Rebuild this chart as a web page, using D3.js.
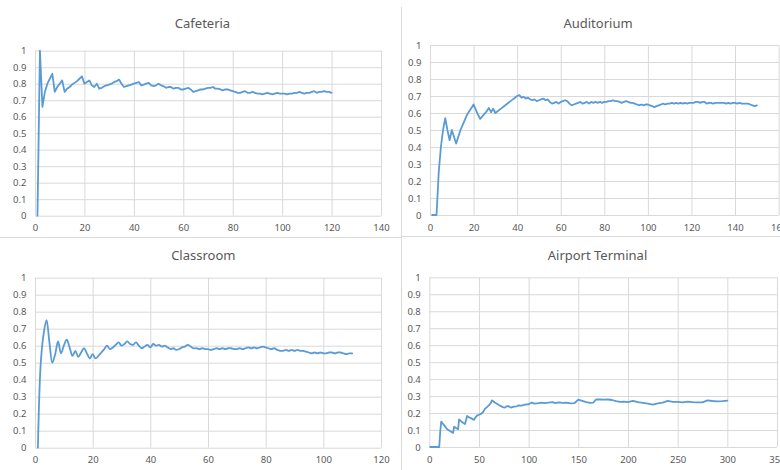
<!DOCTYPE html>
<html>
<head>
<meta charset="utf-8">
<script src="https://cdn.jsdelivr.net/npm/d3@7"></script>
<style>
  html, body { margin: 0; padding: 0; background: #fff; }
  svg { display: block; font-family: "Noto Sans", "Open Sans", sans-serif; }
</style>
</head>
<body>
<svg id="chart" width="780" height="470"></svg>
<script>
// Running ratio per location (series values; x = 1..N unless listed)
const cafeteria = [
  0, 1, 0.66, 0.75, 0.80, 0.83, 0.86, 0.75, 0.78, 0.80,
  0.82, 0.75, 0.77, 0.78, 0.795, 0.805, 0.815, 0.83, 0.845, 0.80,
  0.81, 0.82, 0.79, 0.78, 0.80, 0.77, 0.775, 0.785, 0.79, 0.795,
  0.80, 0.81, 0.815, 0.825, 0.80, 0.78, 0.785, 0.79, 0.795, 0.80,
  0.805, 0.81, 0.79, 0.795, 0.80, 0.805, 0.79, 0.785, 0.79, 0.80,
  0.79, 0.785, 0.775, 0.78, 0.78, 0.77, 0.775, 0.775, 0.765, 0.765,
  0.77, 0.775, 0.765, 0.75, 0.755, 0.76, 0.765, 0.765, 0.77, 0.775,
  0.775, 0.78, 0.77, 0.77, 0.765, 0.76, 0.765, 0.765, 0.76, 0.755,
  0.75, 0.745, 0.745, 0.75, 0.755, 0.745, 0.745, 0.75, 0.745, 0.74,
  0.74, 0.735, 0.74, 0.745, 0.74, 0.735, 0.74, 0.745, 0.74, 0.74,
  0.74, 0.735, 0.74, 0.74, 0.745, 0.745, 0.75, 0.745, 0.74, 0.745,
  0.745, 0.75, 0.755, 0.745, 0.75, 0.75, 0.755, 0.75, 0.75, 0.745
];

const auditorium = [
  0, 0, 0, 0.25, 0.40, 0.50, 0.57, 0.50, 0.44, 0.50,
  0.46, 0.42, 0.46, 0.50, 0.53, 0.56, 0.59, 0.61, 0.63, 0.65,
  0.62, 0.59, 0.565, 0.58, 0.595, 0.61, 0.63, 0.605, 0.625, 0.60,
  0.61, 0.62, 0.63, 0.64, 0.65, 0.66, 0.67, 0.68, 0.69, 0.70,
  0.705, 0.69, 0.695, 0.685, 0.69, 0.68, 0.675, 0.68, 0.67, 0.675,
  0.68, 0.685, 0.675, 0.68, 0.665, 0.655, 0.66, 0.665, 0.655, 0.665,
  0.67, 0.675, 0.67, 0.655, 0.645, 0.65, 0.655, 0.66, 0.665, 0.655,
  0.66, 0.665, 0.655, 0.665, 0.66, 0.665, 0.66, 0.665, 0.66, 0.665,
  0.665, 0.67, 0.67, 0.675, 0.67, 0.67, 0.665, 0.66, 0.665, 0.67,
  0.665, 0.66, 0.66, 0.655, 0.65, 0.645, 0.65, 0.645, 0.65, 0.65,
  0.645, 0.64, 0.635, 0.64, 0.645, 0.65, 0.655, 0.65, 0.655, 0.655,
  0.66, 0.655, 0.66, 0.655, 0.66, 0.655, 0.66, 0.655, 0.66, 0.66,
  0.66, 0.665, 0.665, 0.66, 0.665, 0.665, 0.655, 0.66, 0.66, 0.655,
  0.66, 0.66, 0.66, 0.66, 0.66, 0.655, 0.66, 0.655, 0.66, 0.66,
  0.655, 0.66, 0.655, 0.655, 0.655, 0.655, 0.65, 0.645, 0.64, 0.645
];

const classroom = [
  0, 0.50, 0.67, 0.75, 0.62, 0.50, 0.55, 0.625, 0.555, 0.60,
  0.635, 0.59, 0.54, 0.57, 0.535, 0.56, 0.585, 0.555, 0.525, 0.55,
  0.525, 0.54, 0.56, 0.58, 0.60, 0.58, 0.59, 0.605, 0.62, 0.60,
  0.61, 0.625, 0.61, 0.605, 0.62, 0.60, 0.585, 0.595, 0.605, 0.59,
  0.61, 0.60, 0.605, 0.595, 0.60, 0.59, 0.58, 0.585, 0.575, 0.58,
  0.59, 0.595, 0.605, 0.595, 0.585, 0.585, 0.58, 0.585, 0.58, 0.58,
  0.575, 0.58, 0.585, 0.58, 0.585, 0.58, 0.585, 0.585, 0.58, 0.58,
  0.585, 0.58, 0.585, 0.59, 0.585, 0.59, 0.585, 0.59, 0.595, 0.59,
  0.585, 0.58, 0.585, 0.575, 0.57, 0.57, 0.575, 0.57, 0.575, 0.57,
  0.575, 0.57, 0.57, 0.565, 0.56, 0.555, 0.56, 0.555, 0.56, 0.555,
  0.555, 0.56, 0.56, 0.555, 0.56, 0.56, 0.555, 0.55, 0.555, 0.555
];

const airportX = [
  1, 10, 11, 12, 14, 16, 18, 20, 22, 24, 25, 27, 29, 30, 32, 34, 36, 38, 40, 42,
  45, 46, 48, 50, 52, 54, 56, 58, 60, 62, 63, 66, 70, 74, 76, 78, 80, 82, 85, 88,
  90, 93, 96, 100, 103, 106, 110, 113, 116, 120, 124, 127, 130, 134, 138, 142, 146, 150, 154, 158,
  162, 165, 168, 172, 176, 180, 184, 188, 192, 196, 200, 205, 210, 215, 220, 225, 230, 235, 240, 245,
  250, 255, 260, 265, 270, 275, 280, 285, 290, 295, 300
];
const airportY = [
  0, 0, 0.09, 0.15, 0.135, 0.12, 0.105, 0.097, 0.09, 0.083, 0.12, 0.112, 0.105, 0.163, 0.152, 0.143, 0.135, 0.183, 0.175, 0.17,
  0.16, 0.17, 0.185, 0.19, 0.195, 0.205, 0.225, 0.235, 0.245, 0.26, 0.275, 0.262, 0.248, 0.235, 0.232, 0.24, 0.24, 0.232, 0.238, 0.24,
  0.245, 0.244, 0.25, 0.252, 0.262, 0.256, 0.258, 0.262, 0.258, 0.261, 0.264, 0.258, 0.263, 0.26, 0.262, 0.257, 0.258, 0.279, 0.272, 0.265,
  0.26, 0.262, 0.28, 0.281, 0.279, 0.28, 0.277, 0.27, 0.266, 0.267, 0.264, 0.272, 0.264, 0.26, 0.255, 0.25, 0.257, 0.262, 0.272, 0.266,
  0.266, 0.263, 0.267, 0.264, 0.263, 0.263, 0.275, 0.271, 0.269, 0.27, 0.273
];

const yTicks = [0, 0.1, 0.2, 0.3, 0.4, 0.5, 0.6, 0.7, 0.8, 0.9, 1];

const panels = [
  { title: "Cafeteria", xs: d3.range(1, cafeteria.length + 1), ys: cafeteria,
    xMax: 140, xStep: 20, left: 35, right: 381, top: 50.7, bottom: 215.7, titleX: 202.5, titleY: 28, curve: d3.curveLinear },
  { title: "Auditorium", xs: d3.range(1, auditorium.length + 1), ys: auditorium,
    xMax: 160, xStep: 20, left: 430, right: 778.6, top: 45, bottom: 215, titleX: 598, titleY: 27.5, curve: d3.curveLinear },
  { title: "Classroom", xs: d3.range(1, classroom.length + 1), ys: classroom,
    xMax: 120, xStep: 20, left: 35, right: 381, top: 277.7, bottom: 447.7, titleX: 203.3, titleY: 260, curve: d3.curveCatmullRom.alpha(0.5) },
  { title: "Airport Terminal", xs: airportX, ys: airportY,
    xMax: 350, xStep: 50, left: 429.3, right: 777, top: 277.3, bottom: 447, titleX: 597.5, titleY: 259.5, curve: d3.curveLinear }
];

const svg = d3.select("#chart");

// chart frame separators
svg.append("line").attr("x1", 401.5).attr("x2", 401.5).attr("y1", 7).attr("y2", 470)
  .attr("stroke", "#d9d9d9").attr("stroke-width", 1);
svg.append("line").attr("x1", 0).attr("x2", 401).attr("y1", 237.5).attr("y2", 237.5)
  .attr("stroke", "#d9d9d9").attr("stroke-width", 1);
svg.append("line").attr("x1", 401).attr("x2", 780).attr("y1", 236.5).attr("y2", 236.5)
  .attr("stroke", "#d9d9d9").attr("stroke-width", 1);

panels.forEach(p => {
  const g = svg.append("g");
  const x = d3.scaleLinear().domain([0, p.xMax]).range([p.left, p.right]);
  const y = d3.scaleLinear().domain([0, 1]).range([p.bottom, p.top]);
  const xTicks = d3.range(0, p.xMax + 0.001, p.xStep);

  // horizontal gridlines + y labels
  const yAxis = d3.axisLeft(y).tickValues(yTicks).tickSize(-(p.right - p.left))
    .tickPadding(9).tickFormat(d3.format("~g"));
  const ya = g.append("g").attr("transform", `translate(${p.left},0)`).call(yAxis);
  ya.select(".domain").remove();
  ya.selectAll(".tick line").attr("stroke", "#d9d9d9");
  ya.selectAll(".tick text").attr("fill", "#595959").attr("font-size", 9.5)
    .attr("font-family", "Noto Sans, sans-serif").attr("x", -8.5);

  // vertical gridlines + x labels
  const xAxis = d3.axisBottom(x).tickValues(xTicks).tickSize(-(p.bottom - p.top))
    .tickPadding(8).tickFormat(d3.format("d"));
  const xa = g.append("g").attr("transform", `translate(0,${p.bottom})`).call(xAxis);
  xa.select(".domain").remove();
  xa.selectAll(".tick line").attr("stroke", "#d9d9d9");
  xa.selectAll(".tick text").attr("fill", "#595959").attr("font-size", 9.5)
    .attr("font-family", "Noto Sans, sans-serif").attr("y", 9);

  // title
  g.append("text").attr("x", p.titleX).attr("y", p.titleY)
    .attr("text-anchor", "middle").attr("fill", "#595959")
    .attr("font-size", 13).text(p.title);

  // series line
  const pts = p.xs.map((xv, i) => [xv, p.ys[i]]);
  const line = d3.line().x(d => x(d[0])).y(d => y(d[1])).curve(p.curve);
  g.append("path").datum(pts).attr("d", line)
    .attr("fill", "none").attr("stroke", "#5B9BD5").attr("stroke-width", 1.8)
    .attr("stroke-linejoin", "round").attr("stroke-linecap", "round");
});
</script>
</body>
</html>
